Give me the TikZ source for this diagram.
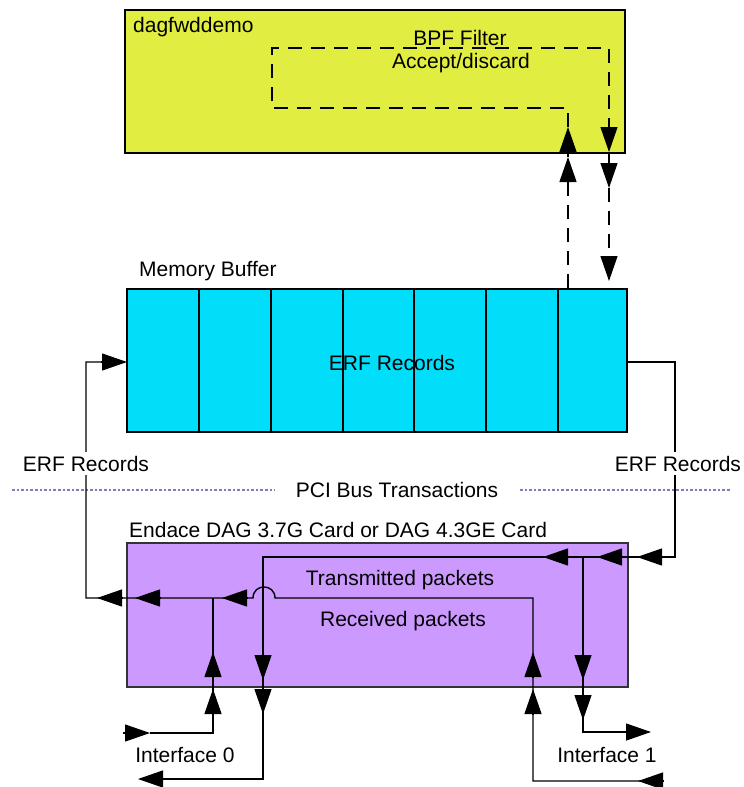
\documentclass[tikz,border=0pt]{standalone}
\usepackage{fontspec}
\setmainfont{Liberation Sans}
\usetikzlibrary{arrows.meta}
\definecolor{boxyellow}{RGB}{225,237,65}
\definecolor{boxcyan}{RGB}{0,222,249}
\definecolor{boxpurple}{RGB}{204,153,255}
\definecolor{pcidot}{RGB}{125,125,185}
\begin{document}
\begin{tikzpicture}[x=1pt,y=-1pt,
  txt/.style={font=\fontsize{21}{25}\selectfont, inner sep=0pt},
  ln/.style={line width=1.4pt, line join=miter},
  dashln/.style={ln, dash pattern=on 14pt off 9pt},
  ah/.style={line width=1.2pt, -{Triangle[length=25pt,width=17pt]}},
  boxstyle/.style={draw, line width=1.6pt, minimum width=500pt, minimum height=143pt, inner sep=0pt}]
\useasboundingbox (0,0) rectangle (744,787);

% boxes
\node[boxstyle, fill=boxyellow] (app) at (375,81.5) {};
\node[boxstyle, fill=boxcyan] (buf) at (377,360.5) {};
\node[boxstyle, fill=boxpurple, line width=1.2pt, draw=black!80, minimum width=501pt, minimum height=144pt] (card) at (377.5,615) {};

% buffer cells
\foreach \x in {199,271,343,414,486,558}
  \draw[line width=1.3pt] (\x,289) -- (\x,432);

% texts
\node[txt, anchor=base west] (tapp) at (133,32) {dagfwddemo};
\node[txt, anchor=base] (tbpf) at (460,45) {BPF Filter};
\node[txt, anchor=base] (tacc) at (461,68) {Accept/discard};
\node[txt, anchor=base west] (tmem) at (139,276) {Memory Buffer};
\node[txt, anchor=base] (terf) at (392,370) {ERF Records};
\node[txt, anchor=base west] (tcard) at (129,537) {Endace DAG 3.7G Card or DAG 4.3GE Card};
\node[txt, anchor=base] (ttx) at (400,585) {Transmitted packets};
\node[txt, anchor=base] (trx) at (403,626) {Received packets};
\node[txt, anchor=base] (tif0) at (185,762) {Interface 0};
\node[txt, anchor=base] (tif1) at (607,762) {Interface 1};

% PCI bus
\node[txt, anchor=base] (tpci) at (397,497) {PCI Bus Transactions};
\draw[pcidot, line width=1.2pt, dash pattern=on 2.6pt off 2pt] (12,490) -- (275,490);
\draw[pcidot, line width=1.2pt, dash pattern=on 2.6pt off 2pt] (520,490) -- (730,490);

% coordinates
\coordinate (bufL) at (127,362);
\coordinate (bufR) at (627,362);
\coordinate (hopR) at (275,598);
\coordinate (hopL) at (253,598);

% dashed filter loop
\draw[dashln] (568,288) -- (568,183);
\draw[dashln] (568,127) -- (568,108) -- (272,108) -- (272,48) -- (609,48) -- (609,128);
\draw[ln] (568,152) -- (568,157);
\draw[ln] (609,152) -- (609,163);
\draw[dashln] (609,188) -- (609,256);
\draw[ah] (568,152) -- (568,127);
\draw[ah] (568,182) -- (568,157);
\draw[ah] (609,128) -- (609,152);
\draw[ah] (609,163) -- (609,188);
\draw[ah] (609,256) -- (609,281);

% transmit path: buffer -> card -> interfaces
\draw[ln] (bufR) -- (675,362) -- (675,557) -- (263,557) -- (263,779) -- (163,779);
\draw[ln] (583,557) -- (583,732) -- (626,732);
\draw[ah] (662,557) -- (637,557);
\draw[ah] (622,557) -- (597,557);
\draw[ah] (568,557) -- (543,557);
\draw[ah] (263,656) -- (263,680);
\draw[ah] (263,690) -- (263,714);
\draw[ah] (163,779) -- (138,779);
\draw[ah] (583,656) -- (583,680);
\draw[ah] (583,696) -- (583,720);
\draw[ah] (626,732) -- (651,732);

% receive path: interfaces -> card -> buffer
\draw[ln] (663,781) -- (533,781) -- (533,598) -- (hopR)
  .. controls (275,583.3) and (253,583.3) .. (hopL) -- (86,598) -- (86,362) -- (101,362);
\draw[ln] (150,733) -- (213,733) -- (213,598);
\draw[ah] (101,362) -- (bufL);
\draw[ah] (122,598) -- (97,598);
\draw[ah] (160,598) -- (135,598);
\draw[ah] (247,598) -- (222,598);
\draw[ah] (213,677) -- (213,652);
\draw[ah] (213,714) -- (213,689);
\draw[ah] (123,733) -- (150,733);
\draw[ah] (533,677) -- (533,652);
\draw[ah] (533,714) -- (533,689);
\draw[ah] (663,781) -- (638,781);

% side labels
\node[txt, anchor=base, fill=white, inner ysep=4pt, inner xsep=1pt] (terfl) at (86,471) {ERF Records};
\node[txt, anchor=base, fill=white, inner ysep=4pt, inner xsep=1pt] (terfr) at (678,471) {ERF Records};
\end{tikzpicture}
\end{document}
